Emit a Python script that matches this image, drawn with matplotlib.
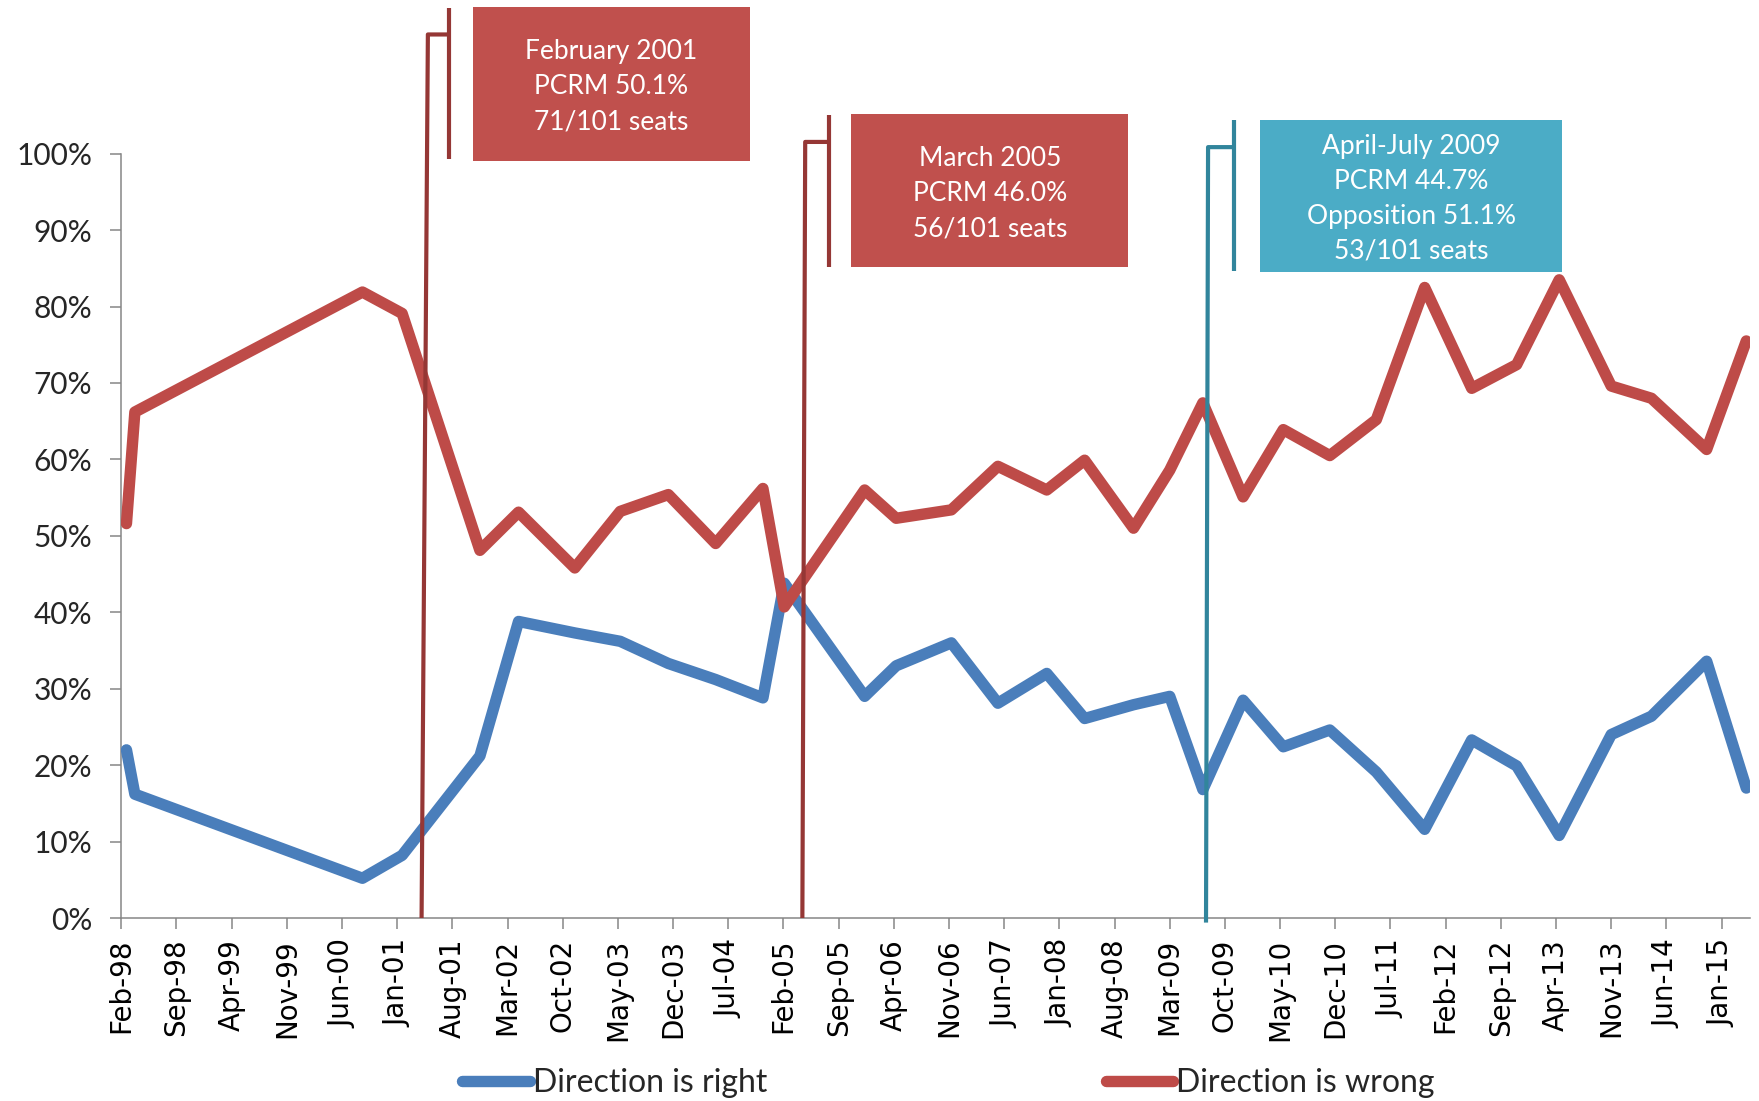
import numpy as np
import matplotlib.pyplot as plt
from matplotlib.lines import Line2D
from matplotlib.patches import Rectangle

# survey dates and shares
dates = ['1998-02-21', '1998-03-23', '2000-08-19', '2001-01-20', '2001-11-16',
         '2002-04-13', '2002-11-17', '2003-05-10', '2003-11-13', '2004-05-13',
         '2004-11-13', '2005-02-04', '2005-12-10', '2006-04-10', '2006-11-10',
         '2007-05-07', '2007-11-13', '2008-04-07', '2008-10-13', '2009-03-01',
         '2009-07-07', '2009-12-10', '2010-05-13', '2010-11-10', '2011-05-07',
         '2011-11-11', '2012-05-10', '2012-11-01', '2013-04-13', '2013-11-01',
         '2014-04-04', '2014-11-04', '2015-04-05']
direction_right = [22.0, 16.2, 5.2, 8.2, 21.2, 38.8, 37.3, 36.2, 33.3, 31.2,
                   28.8, 43.8, 29.0, 33.0, 36.0, 28.1, 32.0, 26.1, 27.9, 29.0,
                   16.8, 28.5, 22.4, 24.6, 19.1, 11.6, 23.3, 19.9, 10.8, 24.0,
                   26.4, 33.6, 17.0]
direction_wrong = [51.6, 66.2, 81.9, 79.1, 48.1, 53.1, 45.8, 53.2, 55.4, 49.0,
                   56.2, 40.7, 56.0, 52.3, 53.4, 59.1, 56.0, 59.9, 51.0, 58.6,
                   67.4, 55.1, 63.9, 60.5, 65.2, 82.5, 69.3, 72.4, 83.5, 69.6,
                   68.0, 61.3, 75.5]

tick_labels = ['Feb-98', 'Sep-98', 'Apr-99', 'Nov-99', 'Jun-00', 'Jan-01', 'Aug-01',
               'Mar-02', 'Oct-02', 'May-03', 'Dec-03', 'Jul-04', 'Feb-05', 'Sep-05',
               'Apr-06', 'Nov-06', 'Jun-07', 'Jan-08', 'Aug-08', 'Mar-09', 'Oct-09',
               'May-10', 'Dec-10', 'Jul-11', 'Feb-12', 'Sep-12', 'Apr-13', 'Nov-13',
               'Jun-14', 'Jan-15']

elections = ['February 2001\nPCRM 50.1%\n71/101 seats',
             'March 2005\nPCRM 46.0%\n56/101 seats',
             'April-July 2009\nPCRM 44.7%\nOpposition 51.1%\n53/101 seats']


# months since Feb 1998
def to_month(s):
    y, m, d = map(int, s.split('-'))
    return (y - 1998) * 12 + (m - 2) + (d - 1) / 30.0


x = np.array([to_month(d) for d in dates])
right = np.array(direction_right) / 100
wrong = np.array(direction_wrong) / 100

BLUE = '#4A7EBB'
RED = '#BE4B48'
DARKRED = '#953735'
TEAL = '#31859C'
BOXRED = '#C0504D'
BOXTEAL = '#4BACC6'
AXIS = '#868686'
CAL = ['Lato', 'DejaVu Sans']

fig = plt.figure(figsize=(17.59, 11.01), dpi=100)
ax = fig.add_axes([121.2 / 1759, 1 - 918 / 1101, (1750 - 121.2) / 1759, (918 - 153.7) / 1101])

lw = 8.2
ax.plot(x, right, color=BLUE, lw=lw, solid_joinstyle='round', solid_capstyle='round', zorder=3)
ax.plot(x, wrong, color=RED, lw=lw, solid_joinstyle='round', solid_capstyle='round', zorder=3)

ax.set_xlim(0, 206.6)
ax.set_ylim(0, 1)
ax.set_xticks(np.arange(len(tick_labels)) * 7)
ax.set_xticklabels(tick_labels, rotation=90, fontsize=20, family='DejaVu Sans', color='black')
ax.set_yticks(np.arange(0, 1.01, 0.1))
ax.set_yticklabels([f'{v}%' for v in range(0, 101, 10)], fontsize=21.5, family=CAL, color='#262626')
ax.tick_params(axis='x', length=8, width=1.1, color=AXIS, pad=7)
ax.tick_params(axis='y', length=8, width=1.1, color=AXIS, pad=13)
for s in ['top', 'right']:
    ax.spines[s].set_visible(False)
for s in ['left', 'bottom']:
    ax.spines[s].set_color(AXIS)
    ax.spines[s].set_linewidth(1.1)


def callout(bottom, top, bar_x, bar_y, box_x, box_y, text, line_color, box_color):
    kw = dict(color=line_color, lw=3, clip_on=False, zorder=5, solid_capstyle='butt')
    ax.plot([bottom[0], top[0], bar_x], [bottom[1], top[1], top[1]], **kw)
    ax.plot([bar_x, bar_x], bar_y, **kw)
    ax.add_patch(Rectangle((box_x[0], box_y[0]), box_x[1] - box_x[0], box_y[1] - box_y[0],
                           facecolor=box_color, edgecolor='none', clip_on=False, zorder=5))
    ax.text((box_x[0] + box_x[1]) / 2, (box_y[0] + box_y[1]) / 2 - 0.004, text,
            ha='center', va='center', color='white', fontsize=19, family=CAL,
            linespacing=1.5, zorder=6, clip_on=False)


callout((38.1, 0), (38.9, 1.156), 41.57, (0.993, 1.191), (44.6, 79.7), (0.991, 1.192),
        elections[0], DARKRED, BOXRED)
callout((86.4, 0), (86.76, 1.0154), 89.75, (0.8524, 1.0504), (92.6, 127.75), (0.8524, 1.0514),
        elections[1], DARKRED, BOXRED)
callout((137.6, -0.006), (137.86, 1.0086), 141.2, (0.8465, 1.0445), (144.5, 182.8), (0.8456, 1.0445),
        elections[2], TEAL, BOXTEAL)

handles = [Line2D([], [], color=BLUE, lw=lw, solid_capstyle='round'),
           Line2D([], [], color=RED, lw=lw, solid_capstyle='round')]
leg = fig.legend(handles, ['Direction is right', 'Direction is wrong'], loc='center',
                 bbox_to_anchor=(0.5392, 0.0163), ncol=2, frameon=False, handlelength=2.1,
                 handletextpad=0.1, columnspacing=10.6, borderpad=0,
                 prop={'family': CAL, 'size': 23})
for t in leg.get_texts():
    t.set_color('#262626')

fig.savefig('out.png', dpi=100)
